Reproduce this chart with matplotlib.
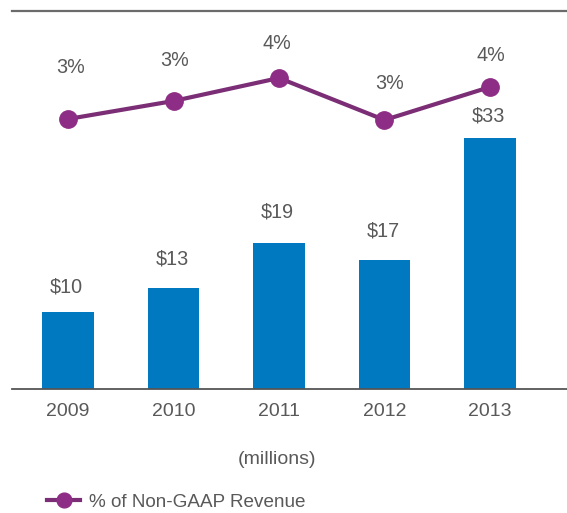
import matplotlib
matplotlib.use("Agg")
import matplotlib.pyplot as plt

# Data
years = ["2009", "2010", "2011", "2012", "2013"]
spend = [10.1, 13.2, 19.1, 16.9, 32.8]          # $ millions
pct_revenue = [3.20, 3.38, 3.61, 3.19, 3.52]    # % of Non-GAAP revenue

# label nudges (points) for the value labels
bar_offsets = [18, 21, 22.3, 21, 16]
pct_offsets = [(1.5, 37), (0.7, 29), (-1.5, 24.5), (3.6, 26.6), (0.7, 23)]

plt.rcParams['font.family'] = ['Liberation Sans', 'DejaVu Sans']

text_col = '#595959'
bar_col = '#0079c1'
line_col = '#7b2e75'
marker_col = '#8e2d85'

fig = plt.figure(figsize=(5.67, 5.13), dpi=100)
ax = fig.add_axes([12/567, 124/513, 555/567, 378/513])

x = list(range(len(years)))
ax.bar(x, spend, width=0.49, color=bar_col, zorder=2)
ax.set_xlim(-0.531, 4.73)
ax.set_ylim(0, 49.4)

for xi, v, off in zip(x, spend, bar_offsets):
    ax.annotate(f"${v:.0f}", (xi, v), xytext=(-1, off), textcoords='offset points',
                ha='center', va='center', fontsize=14.2, color=text_col)

ax.set_xticks(x)
ax.set_xticklabels(years, fontsize=14, color=text_col)
ax.tick_params(axis='x', length=0, pad=10)
ax.set_yticks([])
for s in ('left', 'right'):
    ax.spines[s].set_visible(False)
ax.spines['top'].set_color('#6b6b6b')
ax.spines['top'].set_linewidth(1.6)
ax.spines['bottom'].set_color('#555555')
ax.spines['bottom'].set_linewidth(1.3)

ax2 = ax.twinx()
ax2.set_ylim(0.50, 4.28)
line, = ax2.plot(x, pct_revenue, color=line_col, lw=3, marker='o', ms=12.5,
                 markerfacecolor=marker_col, markeredgecolor=marker_col,
                 label='% of Non-GAAP Revenue', zorder=3)
for xi, v, off in zip(x, pct_revenue, pct_offsets):
    ax2.annotate(f"{v:.0f}%", (xi, v), xytext=off, textcoords='offset points',
                 ha='center', va='center', fontsize=14.2, color=text_col)
ax2.set_yticks([])
for s in ax2.spines.values():
    s.set_visible(False)

fig.text(277/567, 1 - 460/513, "(millions)", ha='center', va='center',
         fontsize=14, color=text_col)

fig.legend(handles=[line], loc='center left', bbox_to_anchor=(30/567, 1 - 502/513),
           frameon=False, handlelength=1.75, handletextpad=0.45, fontsize=13.6,
           labelcolor=text_col, markerscale=0.85)

fig.savefig("out.png", dpi=100)
